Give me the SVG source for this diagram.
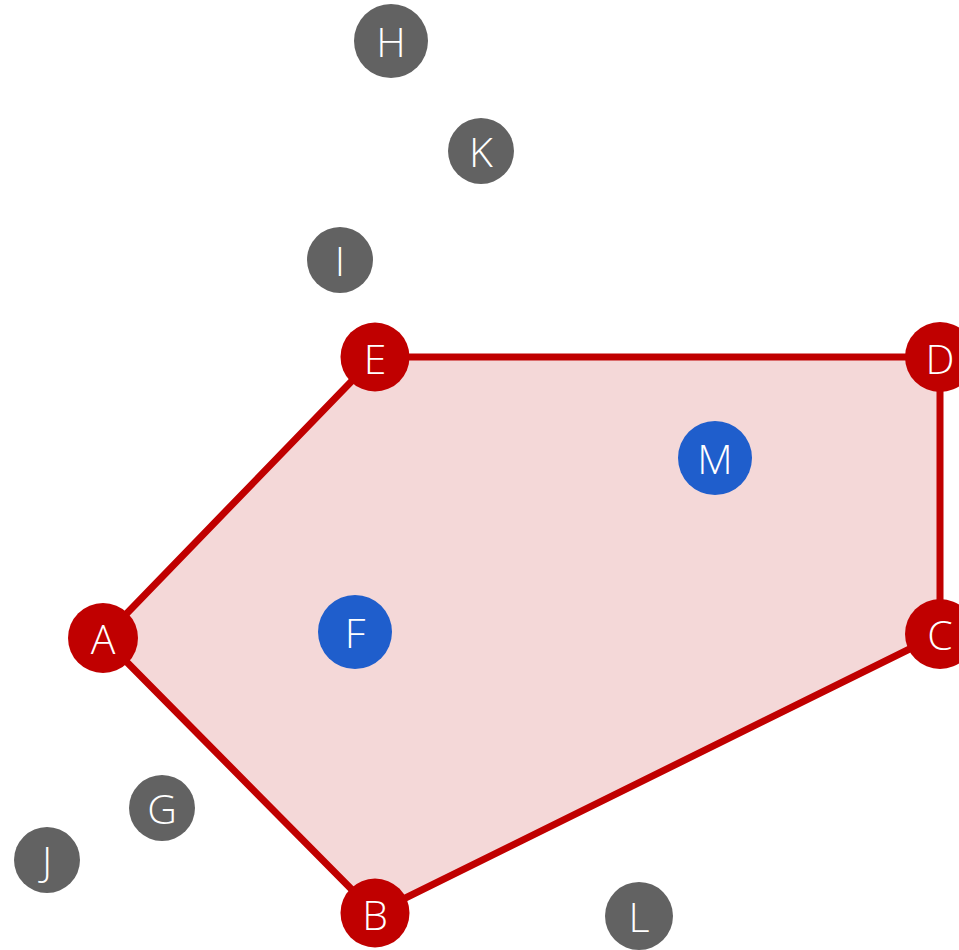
<svg xmlns="http://www.w3.org/2000/svg" width="959" height="950" viewBox="0 0 959 950">
<style>
.red{fill:#c00000}
.blue{fill:#1f5ecc}
.gray{fill:#626262}
text{font-family:"Open Sans","Liberation Sans",sans-serif;font-weight:300;font-size:41px;fill:#ffffff;text-anchor:middle}
</style>
<rect width="959" height="950" fill="#ffffff"/>
<g id="edges">
<polygon points="103,638 375,913 940,634 940,357 375,357" fill="#f4d8d8" stroke="#c00000" stroke-width="7" stroke-linejoin="round"/>
</g>
<g id="node-H"><circle class="gray" cx="391" cy="41" r="37"/><text x="391" y="57">H</text></g>
<g id="node-K"><circle class="gray" cx="481" cy="151" r="33"/><text x="481" y="167">K</text></g>
<g id="node-I"><circle class="gray" cx="340" cy="260" r="33"/><text x="340" y="276">I</text></g>
<g id="node-E"><circle class="red" cx="375" cy="357" r="34.5"/><text x="375" y="374">E</text></g>
<g id="node-D"><circle class="red" cx="940" cy="357" r="35"/><text x="940" y="374">D</text></g>
<g id="node-M"><circle class="blue" cx="715" cy="458" r="37"/><text x="715" y="474">M</text></g>
<g id="node-F"><circle class="blue" cx="355" cy="632" r="37"/><text x="355" y="648">F</text></g>
<g id="node-A"><circle class="red" cx="103" cy="638" r="35"/><text x="103" y="654">A</text></g>
<g id="node-C"><circle class="red" cx="940" cy="634" r="35"/><text x="940" y="650">C</text></g>
<g id="node-G"><circle class="gray" cx="162" cy="808" r="33"/><text x="162" y="824">G</text></g>
<g id="node-J"><circle class="gray" cx="47" cy="860" r="33"/><text x="47" y="876">J</text></g>
<g id="node-B"><circle class="red" cx="375" cy="913" r="34.5"/><text x="375" y="930">B</text></g>
<g id="node-L"><circle class="gray" cx="639" cy="916" r="34"/><text x="639" y="932">L</text></g>
</svg>
